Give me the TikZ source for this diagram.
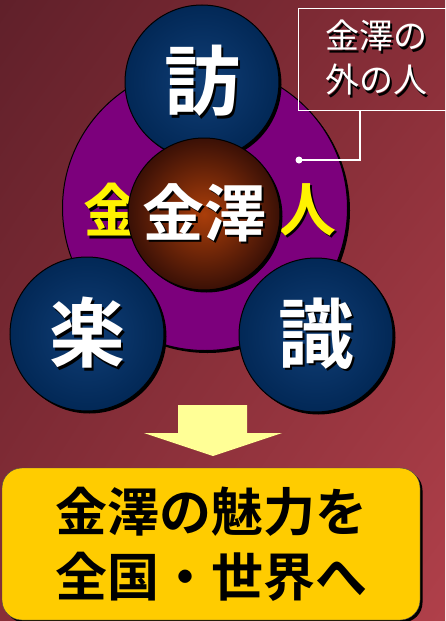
\documentclass[tikz,border=0pt]{standalone}
\usepackage{fontspec}
\newfontfamily\jpfont{Noto Sans CJK JP}[BoldFont={Noto Sans CJK JP Bold}]
\usepackage{tikz}
\usetikzlibrary{positioning,shadows,shadings}
\definecolor{bgtl}{RGB}{96,32,42}
\definecolor{bgmid}{RGB}{136,46,56}
\definecolor{bgbr}{RGB}{176,64,74}
\definecolor{navyin}{RGB}{16,62,118}
\definecolor{navyout}{RGB}{2,40,86}
\definecolor{brownin}{RGB}{170,62,10}
\definecolor{brownout}{RGB}{58,16,6}
\definecolor{ringpurple}{RGB}{124,0,124}
\definecolor{pale}{RGB}{255,255,150}
\definecolor{gold}{RGB}{255,204,0}
\newcommand{\shadowed}[1]{\makebox[0pt][l]{\hspace{2.5pt}\raisebox{-2.5pt}{\color{black}#1}}#1}
\tikzstyle{ball}=[circle,draw=black,line width=1pt,minimum size=154pt,inner sep=0pt,
  shading=radial,inner color=navyin,outer color=navyout,
  drop shadow={shadow xshift=2.5pt,shadow yshift=-2.5pt,opacity=1,fill=black},
  text=white,font=\jpfont\bfseries\fontsize{76}{76}\selectfont]
\tikzstyle{people}=[text=yellow,inner sep=0pt,font=\jpfont\bfseries\fontsize{58}{58}\selectfont]

\begin{document}
\begin{tikzpicture}[x=1pt,y=-1pt]
\useasboundingbox (0,0) rectangle (445,621);
\shade[upper left=bgtl,upper right=bgmid,lower left=bgmid,lower right=bgbr] (0,0) rectangle (445,621);
% ring of people
\node (ring) [circle,draw=black,line width=1pt,fill=ringpurple,minimum size=285pt,
  drop shadow={shadow xshift=2.5pt,shadow yshift=-2.5pt,opacity=1,fill=black}] at (205,208) {};
\node (gold) [people] at (112,211) {\shadowed{金}};
\node (person) [people] at (307,211) {\shadowed{人}};
% three balls
\node (visit) [ball] at (202,82) {\shadowed{訪}};
\node (fun) [ball] at (87,334) {\shadowed{楽}};
\node (know) [ball] at (316,335) {\shadowed{識}};
\node (core) [circle,draw=black,line width=1pt,minimum size=152pt,inner sep=0pt,
  shading=radial,inner color=brownin,outer color=brownout,
  drop shadow={shadow xshift=2.5pt,shadow yshift=-2.5pt,opacity=1,fill=black},
  text=white,font=\jpfont\bfseries\fontsize{62}{62}\selectfont] at (204,214) {\shadowed{金澤}};
% callout
\node (outside) [draw=white,line width=1pt,minimum width=156pt,minimum height=102pt,
  align=center,text=white,font=\jpfont\fontsize{34}{44}\selectfont] at (376,59)
  {\shadowed{金澤の}\\\shadowed{外の人}};
\coordinate (dot) at (299,160);
\draw[white,line width=1.5pt] ([xshift=-16pt]outside.south) |- (dot);
\fill[white] (dot) circle (3.5pt);
% arrow
\fill[pale] (178,405) -- (247,405) -- (247,433) -- (282,433) -- (213,456)
  -- (144,433) -- (178,433) -- cycle;
% result
\node (goal) [rounded corners=20pt,fill=gold,draw=black!70,minimum width=418pt,minimum height=152pt,
  drop shadow={shadow xshift=2.5pt,shadow yshift=-2.5pt,opacity=1,fill=black},
  align=center,font=\jpfont\bfseries\fontsize{52}{65}\selectfont] at (211,544)
  {金澤の魅力を\\全国・世界へ};
\end{tikzpicture}
\end{document}
